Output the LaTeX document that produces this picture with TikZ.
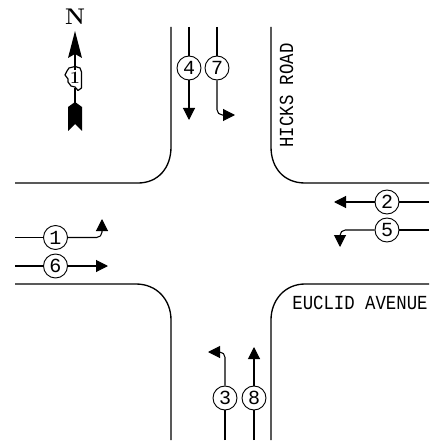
\documentclass[tikz,border=0pt]{standalone}
\usepackage{fontspec}
\setmonofont{Liberation Mono}
\usetikzlibrary{arrows.meta}
\tikzset{
  curb/.style={line width=1pt},
  feed/.style={line width=0.8pt},
  move/.style={line width=0.8pt,-{Triangle[length=9pt,width=9pt]},rounded corners=4pt},
  phase/.style={circle,draw,fill=white,line width=0.7pt,minimum size=18pt,inner sep=0pt,font=\ttfamily\fontsize{15}{15}\selectfont},
  street/.style={font=\ttfamily\fontsize{13}{13}\selectfont,inner sep=0pt,yscale=1.15}
}

\begin{document}
\begin{tikzpicture}[x=0.75pt,y=-0.75pt]
\useasboundingbox (0,0) rectangle (431,442);

% Bordures
\draw[curb] (171,27)--(171,147) .. controls (171,168) and (158,183) .. (138,183)--(15,183);
\draw[curb] (271,27)--(271,147) .. controls (271,168) and (284,183) .. (305,183)--(429,183);
\draw[curb] (15,284)--(136,284) .. controls (157,284) and (171,300) .. (171,320)--(171,440);
\draw[curb] (429,284)--(305,284) .. controls (285,284) and (271,300) .. (271,320)--(271,440);

% Noms des rues
\node[rotate=90,street] (hicks) at (286.5,95.5) {HICKS ROAD};
\node[street] (euclid) at (360,303) {EUCLID AVENUE};

% Cercles
\node[phase] (P1) at (55.5,237.5) {1};
\node[phase] (P2) at (387,202) {2};
\node[phase] (P3) at (225,398) {3};
\node[phase] (P4) at (189,68) {4};
\node[phase] (P5) at (387,230) {5};
\node[phase] (P6) at (55.5,266) {6};
\node[phase] (P7) at (217,68) {7};
\node[phase] (P8) at (254,398) {8};

% Extremites
\coordinate (S1) at (15,237.5);
\coordinate (T1) at (102,219);
\coordinate (S2) at (429,202);
\coordinate (T2) at (334,202);
\coordinate (S3) at (225,440);
\coordinate (T3) at (208,352);
\coordinate (S4) at (189,27);
\coordinate (T4) at (189,120);
\coordinate (S5) at (429,230);
\coordinate (T5) at (340,247);
\coordinate (S6) at (15,266);
\coordinate (T6) at (108,266);
\coordinate (S7) at (217,27);
\coordinate (T7) at (235,115);
\coordinate (S8) at (254,440);
\coordinate (T8) at (254,347);

% Mouvements
\foreach \n in {2,4,6,8}
  {
    \draw[feed] (S\n)--(P\n);
    \draw[move] (P\n)--(T\n);
  }
\foreach \n in {1,5}
  {
    \draw[feed] (S\n)--(P\n);
    \draw[move] (P\n)-|(T\n);
  }
\foreach \n in {3,7}
  {
    \draw[feed] (S\n)--(P\n);
    \draw[move] (P\n)|-(T\n);
  }

% Fleche du nord
\node[font=\bfseries\fontsize{17}{17}\selectfont,inner sep=0pt] (north) at (75,17) {N};
\fill (75,31)--(82,58)--(75,54)--(68,58)--cycle;
\draw[feed] (75,54)--(75,70);
\draw[feed] (75,88)--(75,105);
\fill (75,102)--(82,107)--(82,131)--(75,124)--(68,131)--(68,107)--cycle;

% Contour de l'Etat
\draw[line width=0.9pt,line join=round] (69,68)--(75,66.5)--(80,68)--(81.5,72)--(81.5,88)--(78,90.5)--(75,87)--(71,86)--(68,82)--(68,79)--(65,75)--(67,71)--cycle;
\node[font=\bfseries\fontsize{13}{13}\selectfont,inner sep=0pt] (route) at (75,78) {1};
\end{tikzpicture}
\end{document}
